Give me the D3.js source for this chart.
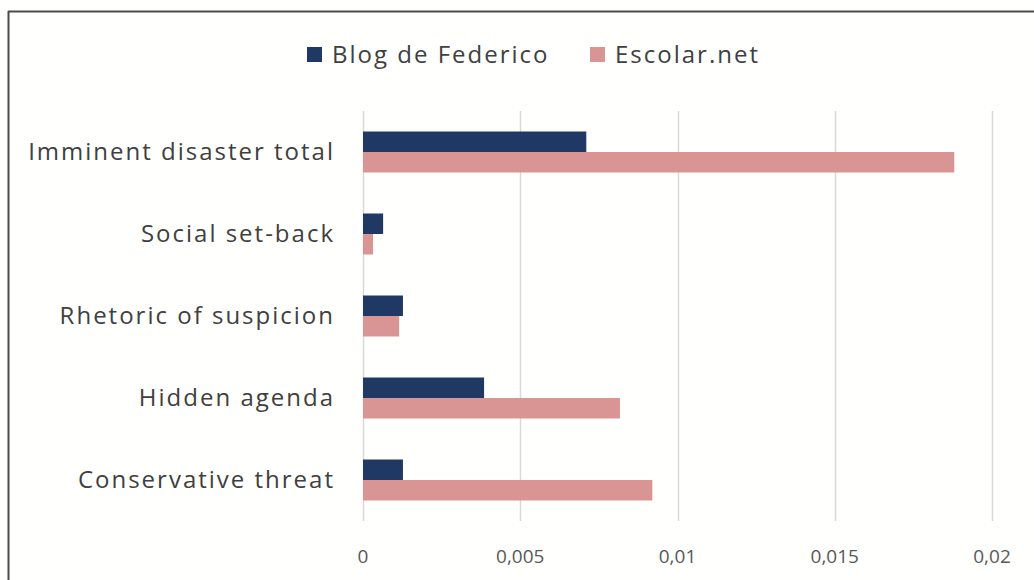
<!DOCTYPE html>
<html>
<head>
<meta charset="utf-8">
<script src="https://cdn.jsdelivr.net/npm/d3@7"></script>
<style>
  body { margin: 0; background: #fffffd; }
  text { font-family: "Open Sans", Lato, sans-serif; }
</style>
</head>
<body>
<div class="bar-holder"></div>
<script>
// Data
const categories = ["Imminent disaster total", "Social set-back", "Rhetoric of suspicion", "Hidden agenda", "Conservative threat"];
const series_names = ["Blog de Federico", "Escolar.net"];
const blog_values = [0.0071, 0.00064, 0.00127, 0.00385, 0.00127];
const escolar_values = [0.0188, 0.00032, 0.00115, 0.00817, 0.0092];
const tick_values = [0, 0.005, 0.01, 0.015, 0.02];
const colors = ["#1f3864", "#d99594"];

const width = 1034;
const height = 580;
const margin = { top: 111, right: 42, bottom: 59, left: 363 };
const plot_w = width - margin.left - margin.right;
const plot_h = height - margin.top - margin.bottom;

const svg = d3.select('.bar-holder').append('svg')
  .attr('width', width)
  .attr('height', height);

// left + top frame lines
svg.append('line').attr('x1', 8.5).attr('x2', 8.5).attr('y1', 11).attr('y2', height)
  .attr('stroke', '#4b4b45').attr('stroke-width', 2);
svg.append('line').attr('x1', 8).attr('x2', width).attr('y1', 11.5).attr('y2', 11.5)
  .attr('stroke', '#4b4b45').attr('stroke-width', 2);

const g = svg.append('g')
  .attr('transform', 'translate(' + margin.left + ',' + margin.top + ')');

const xScale = d3.scaleLinear()
  .domain([0, 0.02])
  .range([0, plot_w]);

const yScale = d3.scaleBand()
  .domain(categories)
  .range([0, plot_h])
  .paddingInner(0.5)
  .paddingOuter(0.25);

const ySub = d3.scaleBand()
  .domain(series_names)
  .range([0, yScale.bandwidth()]);

// gridlines
g.selectAll('.grid')
  .data(tick_values)
  .enter().append('line')
  .attr('x1', d => Math.round(xScale(d)) + 0.5)
  .attr('x2', d => Math.round(xScale(d)) + 0.5)
  .attr('y1', 0)
  .attr('y2', plot_h)
  .attr('stroke', '#d9d9d9')
  .attr('stroke-width', 1.5);

// bars
const rows = categories.map((c, i) => ({ cat: c, vals: [blog_values[i], escolar_values[i]] }));

const groups = g.selectAll('.row')
  .data(rows)
  .enter().append('g')
  .attr('transform', d => 'translate(0,' + yScale(d.cat) + ')');

groups.selectAll('rect')
  .data(d => d.vals.map((v, j) => ({ name: series_names[j], v: v, j: j })))
  .enter().append('rect')
  .attr('x', xScale(0))
  .attr('y', d => ySub(d.name))
  .attr('width', d => xScale(d.v) - xScale(0))
  .attr('height', ySub.bandwidth())
  .attr('fill', d => colors[d.j]);

// category labels
g.selectAll('.cat-label')
  .data(categories)
  .enter().append('text')
  .attr('x', -28)
  .attr('y', d => yScale(d) + yScale.bandwidth() / 2)
  .attr('dy', '0.35em')
  .attr('text-anchor', 'end')
  .attr('fill', '#404040')
  .style('font-size', '24px')
  .style('letter-spacing', '2px')
  .text(d => d);

// x axis labels
const fmt = d => String(d).replace('.', ',');
g.selectAll('.tick-label')
  .data(tick_values)
  .enter().append('text')
  .attr('x', d => xScale(d))
  .attr('y', plot_h + 42)
  .attr('text-anchor', 'middle')
  .attr('fill', '#595959')
  .style('font-size', '19px')
  .text(fmt);

// legend
const legend = svg.append('g')
  .attr('transform', 'translate(307, 47)');

const legend_x = [0, 283];
series_names.forEach((name, i) => {
  legend.append('rect')
    .attr('x', legend_x[i])
    .attr('y', 0)
    .attr('width', 15)
    .attr('height', 15)
    .attr('fill', colors[i]);
  legend.append('text')
    .attr('x', legend_x[i] + 25)
    .attr('y', 16)
    .attr('fill', '#404040')
    .style('font-size', '24px')
    .style('letter-spacing', '2px')
    .text(name);
});
</script>
</body>
</html>
